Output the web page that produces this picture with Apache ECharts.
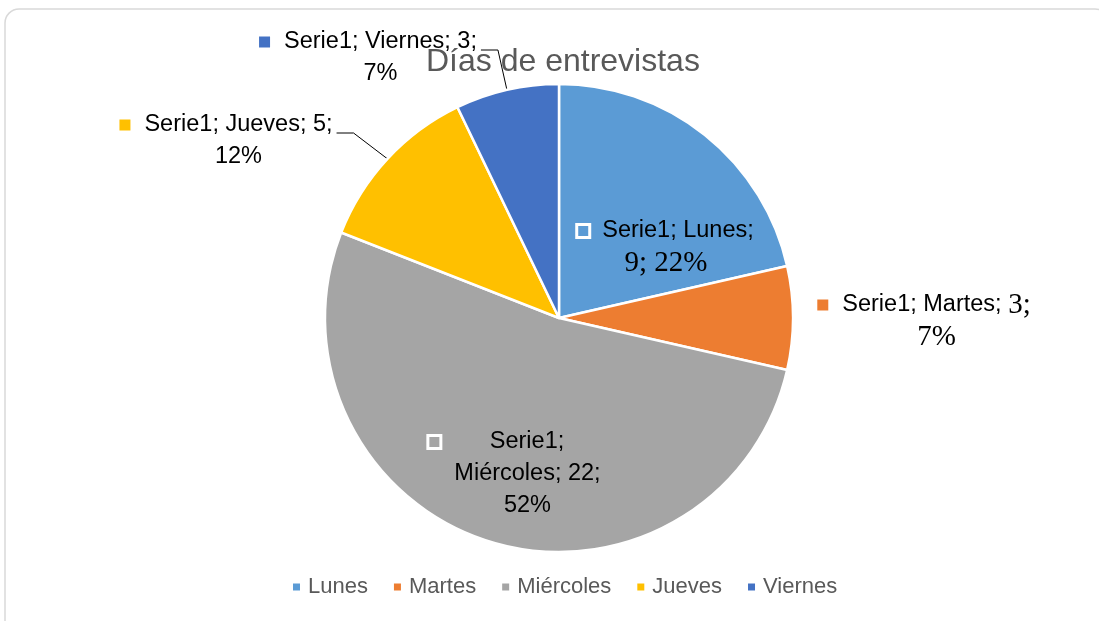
<!DOCTYPE html>
<html>
<head>
<meta charset="utf-8">
<title>Días de entrevistas</title>
<script src="https://cdn.jsdelivr.net/npm/echarts@6/dist/echarts.min.js"></script>
<style>
  html, body { margin: 0; padding: 0; background: #fff; }
</style>
</head>
<body>
<div id="main" style="width: 1099px; height: 621px;"></div>
<script type="text/javascript">
var chartTitle = 'Días de entrevistas';
var seriesName = 'Serie1';
var categories = ['Lunes', 'Martes', 'Miércoles', 'Jueves', 'Viernes'];
var values = [9, 3, 22, 5, 3];
var percents = ['22%', '7%', '52%', '12%', '7%'];
var colors = ['#5B9BD5', '#ED7D31', '#A5A5A5', '#FFC000', '#4472C4'];

// where each data label block is centred (Excel placed them by hand)
var labelPos = [[666, 247], [924, 321], [515, 474], [226, 141], [368, 58]];

var sans = 'Liberation Sans';
var serif = 'Liberation Serif';

function richFor(color, hollow) {
  return {
    m: {
      width: hollow ? 10 : 11, height: hollow ? 10 : 11,
      backgroundColor: color,
      borderColor: hollow ? '#fff' : 'transparent',
      borderWidth: hollow ? 3 : 0,
      align: 'left', lineHeight: 32
    },
    g: { width: 14, align: 'left', lineHeight: 32 },
    s: { width: 25, align: 'left', lineHeight: 32 },
    t: { fontFamily: sans, fontSize: 23.5, color: '#000', lineHeight: 32, align: 'center' },
    n: { fontFamily: serif, fontSize: 29, color: '#000', lineHeight: 32, align: 'center' }
  };
}

function labelText(i) {
  var head = seriesName + '; ' + categories[i] + ';';
  switch (i) {
    case 0: return '{m| }{g| }{t|' + head + '}\n{n|' + values[i] + '; ' + percents[i] + '}';
    case 1: return '{m| }{g| }{t|' + head + ' }{n|' + values[i] + ';}\n{s| }{n|' + percents[i] + '}';
    case 2: return '{m| }{g| }{t|' + seriesName + ';}\n{s| }{t|' + categories[i] + '; ' + values[i] + ';}\n{s| }{t|' + percents[i] + '}';
    default: return '{m| }{g| }{t|' + head + ' ' + values[i] + ';}\n{s| }{t|' + percents[i] + '}';
  }
}

var pieData = categories.map(function (name, i) {
  var inside = (i === 0 || i === 2);
  return {
    name: name,
    value: values[i],
    itemStyle: { color: colors[i] },
    label: {
      position: inside ? 'inside' : 'outside',
      formatter: labelText(i),
      rich: richFor(colors[i], inside)
    },
    labelLine: { show: (i === 3 || i === 4) }
  };
});

var myChart = echarts.init(document.getElementById('main'));

var option = {
  backgroundColor: '#fff',
  animation: false,
  color: colors,
  graphic: [{
    type: 'rect',
    shape: { x: 5, y: 9, width: 1104, height: 650, r: 14 },
    style: { fill: 'none', stroke: '#d9d9d9', lineWidth: 1.5 },
    silent: true,
    z: -1
  }],
  title: {
    text: chartTitle,
    left: 421,
    top: 41,
    textStyle: { fontFamily: sans, fontSize: 32, fontWeight: 'normal', color: '#595959' }
  },
  legend: {
    data: categories,
    left: 286,
    top: 571,
    icon: 'rect',
    itemWidth: 9,
    itemHeight: 9,
    itemGap: 24,
    textStyle: { fontFamily: sans, fontSize: 22, color: '#595959', padding: [0, 0, 0, 2] }
  },
  series: [{
    name: seriesName,
    type: 'pie',
    center: [559, 318],
    radius: 234,
    startAngle: 90,
    clockwise: true,
    avoidLabelOverlap: false,
    itemStyle: { borderColor: '#fff', borderWidth: 2.5 },
    labelLine: { lineStyle: { color: '#000', width: 1 } },
    labelLayout: function (params) {
      var p = labelPos[params.dataIndex];
      var out = { x: p[0], y: p[1], align: 'center', verticalAlign: 'middle' };
      var pts = params.labelLinePoints;
      if (pts && pts.length) {
        // elbow leader: from the slice edge to a short flat tail right of the label's first line
        var r = params.labelRect;
        var right = p[0] + r.width / 2;
        var y = p[1] - r.height / 2 + 20;
        out.labelLinePoints = [pts[0], [right + 21, y], [right + 4, y]];
      }
      return out;
    },
    data: pieData
  }]
};

myChart.setOption(option);
</script>
</body>
</html>
